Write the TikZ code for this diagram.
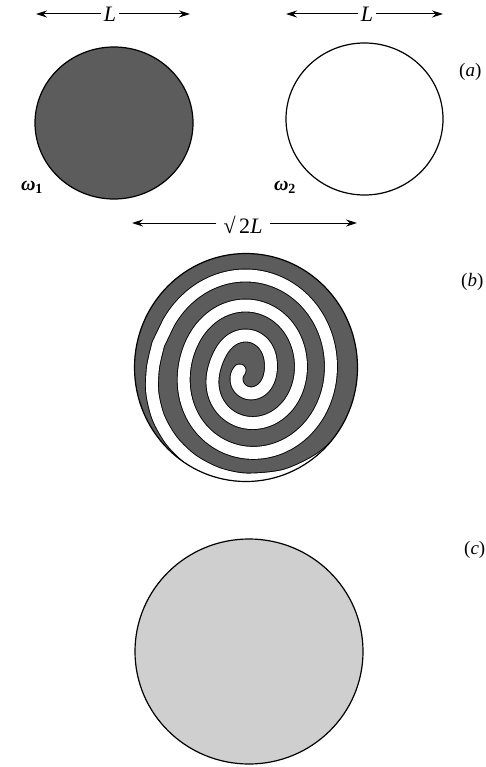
\documentclass[tikz,border=0pt]{standalone}
\usepackage{fontspec}
\setmainfont{Liberation Serif}
\usetikzlibrary{arrows.meta}
\definecolor{darkfill}{gray}{0.36}
\definecolor{lightfill}{gray}{0.81}
\begin{document}
\begin{tikzpicture}[x=1pt,y=1pt,
  lbl/.style={font=\fontsize{22}{26}\selectfont, inner sep=3pt},
  side/.style={font=\fontsize{19}{23}\selectfont, inner sep=0pt, anchor=west},
  wlbl/.style={font=\fontsize{20}{24}\selectfont\bfseries\itshape, inner sep=0pt},
  dimarrow/.style={line width=1pt, -{Stealth[length=11pt,width=7pt]}},
  outline/.style={line width=1.2pt},
  declare function={wr(\t)=17.1+\t/12+4*cos(\t)+4.25*sin(\t)+3.9*cos(2*\t);}
]
\fill[white] (0,0) rectangle (485,-767);
\useasboundingbox (0,0) rectangle (485,-767);

% ---------- (a) ----------
\filldraw[fill=darkfill, outline] (114,-123) ellipse [x radius=79, y radius=76];
\draw[outline] (364.5,-119) ellipse [x radius=78.5, y radius=76];

\node[lbl] (L1) at (110,-14) {\textit{L}};
\coordinate (L1a) at (36,-14);
\coordinate (L1b) at (190,-14);
\draw[dimarrow] (L1) -- (L1a);
\draw[dimarrow] (L1) -- (L1b);

\node[lbl] (L2) at (367,-14) {\textit{L}};
\coordinate (L2a) at (286,-14);
\coordinate (L2b) at (443,-14);
\draw[dimarrow] (L2) -- (L2a);
\draw[dimarrow] (L2) -- (L2b);

\node[wlbl] (w1) at (32,-187) {ω\textsubscript{\upshape 1}};
\node[wlbl] (w2) at (285,-187) {ω\textsubscript{\upshape 2}};
\node[side] (la) at (459,-72) {(\textit{a})};

% ---------- (b) ----------
\node[lbl, inner xsep=7pt] (L3) at (243,-225) {√\,2\textit{L}};
\coordinate (L3a) at (132,-223);
\coordinate (L3b) at (357,-223);
\draw[dimarrow] (L3.west |- L3a) -- (L3a);
\draw[dimarrow] (L3.east |- L3b) -- (L3b);
\node[side] (lb) at (461,-282) {(\textit{b})};

\begin{scope}[shift={(246,-367.5)}]
  \begin{scope}
    \clip (0,0) ellipse [x radius=111.5, y radius=114];
    \fill[darkfill] (0,0) ellipse [x radius=111.5, y radius=114];
    \foreach \strokecol/\strokew in {black/13.8pt, white/12pt}{
      \draw[draw=\strokecol, line width=\strokew, line cap=round, line join=round]
        plot[domain=-65:960, samples=300, smooth, variable=\t]
          ({wr(\t)*cos(270+\t)}, {wr(\t)*sin(270+\t)})
        -- plot[smooth] coordinates {(165:90.8) (180:93) (195:97) (210:101) (225:104.5)
                                     (240:107.5) (255:110) (270:112) (290:115)
                                     (310:118) (330:121.5) (350:126) (370:131)};
    }
  \end{scope}
  \draw[outline] (0,0) ellipse [x radius=111.5, y radius=114];
\end{scope}

% ---------- (c) ----------
\filldraw[fill=lightfill, outline] (249,-651.5) ellipse [x radius=114, y radius=112.5];
\node[side] (lc) at (464,-550) {(\textit{c})};
\end{tikzpicture}
\end{document}
